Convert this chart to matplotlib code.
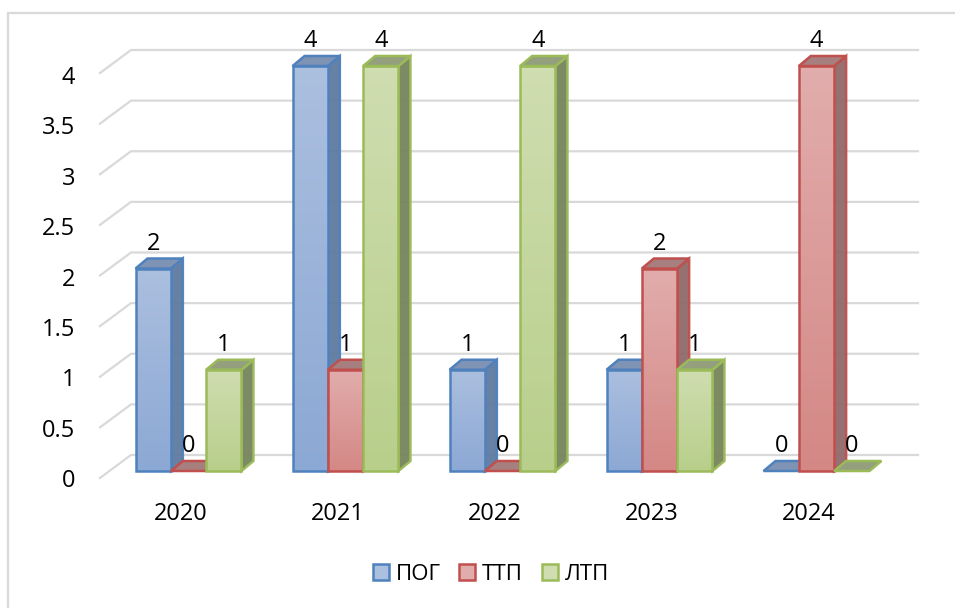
import numpy as np
import matplotlib
matplotlib.use("Agg")
import matplotlib.pyplot as plt
from matplotlib.lines import Line2D
from matplotlib.patches import Polygon, Patch, Rectangle
from matplotlib.colors import LinearSegmentedColormap

# -------------------------------
# Data
# -------------------------------
years = ["2020", "2021", "2022", "2023", "2024"]
pog = [2, 4, 1, 1, 0]
ttp = [0, 1, 0, 2, 4]
ltp = [1, 4, 4, 1, 0]
y_ticks = [0, 0.5, 1, 1.5, 2, 2.5, 3, 3.5, 4]
y_tick_labels = ["0", "0.5", "1", "1.5", "2", "2.5", "3", "3.5", "4"]
series_names = ["ПОГ", "ТТП", "ЛТП"]
series_values = [pog, ttp, ltp]

# -------------------------------
# Styles
# -------------------------------
edge_colors = ["#4F81BD", "#C0504D", "#9BBB59"]
front_top = ["#ABBFDF", "#E1ADAC", "#CFDDB0"]
front_bottom = ["#8CA8D4", "#D48885", "#B8CF8B"]
side_colors = ["#5F7A9F", "#8F6A69", "#76855C"]
top_colors = ["#7F93B5", "#A67F7E", "#939F7D"]
grid_color = "#D9D9D9"
text_font = ["Open Sans", "DejaVu Sans"]

W, H = 955, 608
px_x = 157.0     # pixels per category
px_y = 101.25    # pixels per unit of value
x0_px = 188.5    # pixel of first category centre
y0_px = 471.0    # pixel of value 0 on the bar front

bar_w = 35.3 / px_x
depth_x = 12.0 / px_x
depth_y = 10.0 / px_y
line_w = 1.8

plt.rcParams["font.family"] = text_font

fig = plt.figure(figsize=(W / 100, H / 100), dpi=100)
ax = fig.add_axes([0, 0, 1, 1])
ax.axis("off")


def draw_bar(left, value, idx):
    right = left + bar_w
    if value > 0:
        # side face
        side = [(right, 0), (right + depth_x, depth_y),
                (right + depth_x, value + depth_y), (right, value)]
        ax.add_patch(Polygon(side, closed=True, fc=side_colors[idx],
                             ec=edge_colors[idx], lw=line_w, alpha=0.95, zorder=3))
        # front face with gradient
        cmap = LinearSegmentedColormap.from_list("g", [front_top[idx], front_bottom[idx]])
        ax.imshow(np.linspace(0, 1, 64).reshape(-1, 1), cmap=cmap, aspect="auto",
                  extent=(left, right, 0, value), zorder=3)
        ax.add_patch(Rectangle((left, 0), bar_w, value, fc="none", ec=edge_colors[idx],
                               lw=line_w, zorder=3))
    top = [(left, value), (right, value),
           (right + depth_x, value + depth_y), (left + depth_x, value + depth_y)]
    ax.add_patch(Polygon(top, closed=True, fc=top_colors[idx], ec=edge_colors[idx],
                         lw=line_w, zorder=3))


# -------------------------------
# Back wall grid
# -------------------------------
wall_dy = 16.0 / px_y
wall_left = (131 - x0_px) / px_x
wall_right = (918 - x0_px) / px_x
front_left = (100 - x0_px) / px_x
front_dy = 7.0 / px_y
for v, lab in zip(y_ticks, y_tick_labels):
    ax.plot([front_left, wall_left, wall_right],
            [v - front_dy, v + wall_dy, v + wall_dy],
            color=grid_color, lw=1.6, zorder=1, solid_joinstyle="miter")
    ax.text((75 - x0_px) / px_x, v * 100.75 / px_y - 10.0 / px_y, lab, ha="right", va="center",
            fontsize=17, color="black", zorder=5)

# -------------------------------
# Bars
# -------------------------------
for i, year in enumerate(years):
    for s, values in enumerate(series_values):
        left = i + (s - 1.5) * bar_w
        draw_bar(left, values[i], s)
    ax.text(i - 8.0 / px_x, (471 - 514) / px_y, year, ha="center", va="center",
            fontsize=17, color="black", zorder=5)

for i in range(len(years)):
    for s, values in enumerate(series_values):
        center = i + (s - 1) * bar_w
        ax.text(center, values[i] + 25.0 / px_y, str(values[i]), ha="center", va="center",
                fontsize=17, color="black", zorder=6)

ax.set_xlim((0 - x0_px) / px_x, (W - x0_px) / px_x)
ax.set_ylim((y0_px - H) / px_y, y0_px / px_y)

# -------------------------------
# Legend and frame
# -------------------------------
handles = [Patch(facecolor=front_top[k], edgecolor=edge_colors[k], linewidth=line_w,
                 label=series_names[k]) for k in range(3)]
fig.legend(handles=handles, loc="center", bbox_to_anchor=(491 / W, 1 - 574 / H), ncol=3,
           frameon=False, fontsize=16, handlelength=0.72, handleheight=0.72,
           handletextpad=0.3, columnspacing=0.85, borderpad=0)

fig.add_artist(Line2D([8 / W, 8 / W, 1], [0, 1 - 13 / H, 1 - 13 / H], transform=fig.transFigure,
                      color=grid_color, lw=1.6, solid_joinstyle="miter"))

fig.savefig("out.png", dpi=100)
plt.close(fig)
